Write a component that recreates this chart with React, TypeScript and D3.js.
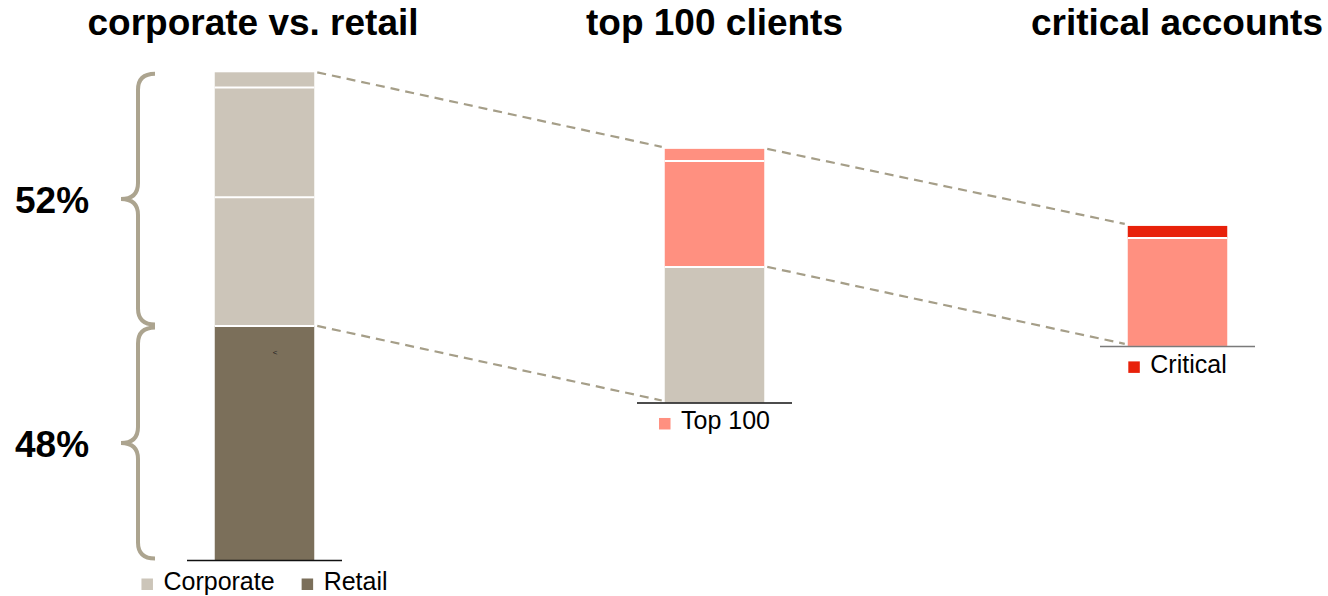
import React from "react";
import * as d3 from "d3";

// ---- data ----
const columns = ["corporate vs. retail", "top 100 clients", "critical accounts"];
const columnBase = [0, 32.3, 43.9]; // where each bar starts on the shared value axis
const bar1Segments = [
  { key: "Retail", value: 48.0, color: "#7b6f5a" },
  { key: "Corporate", value: 26.4, color: "#ccc5b9" },
  { key: "Corporate", value: 22.5, color: "#ccc5b9" },
  { key: "Corporate", value: 3.1, color: "#ccc5b9" },
];
const bar2Segments = [
  { key: "Other", value: 27.8, color: "#ccc5b9" },
  { key: "Top 100", value: 21.7, color: "#ff9080" },
  { key: "Top 100", value: 2.5, color: "#ff9080" },
];
const bar3Segments = [
  { key: "Top 100", value: 22.1, color: "#ff9080" },
  { key: "Critical", value: 2.5, color: "#e8210a" },
];
const legends = [
  [
    { label: "Corporate", color: "#ccc5b9" },
    { label: "Retail", color: "#7b6f5a" },
  ],
  [{ label: "Top 100", color: "#ff9080" }],
  [{ label: "Critical", color: "#e8210a" }],
];
const braceLabels = [
  { label: "52%", from: 48, to: 100 },
  { label: "48%", from: 0, to: 48 },
];

const W = 1328;
const H = 596;
const FONT = "'Liberation Sans', Arial, Helvetica, sans-serif";

let ctx: CanvasRenderingContext2D | null = null;
function measure(text: string, fs: number) {
  if (!ctx && typeof document !== "undefined") {
    ctx = document.createElement("canvas").getContext("2d");
  }
  if (!ctx) return text.length * fs * 0.5;
  ctx.font = `${fs}px 'Liberation Sans', Arial, sans-serif`;
  return ctx.measureText(text).width;
}

export default function App() {
  const y = d3.scaleLinear().domain([0, 100]).range([560, 72.3]);
  const x = d3.scaleOrdinal<string, number>().domain(columns).range([264.5, 714.5, 1177.5]);
  const titleX = d3.scaleOrdinal<string, number>().domain(columns).range([253, 714.5, 1177]);
  const barW = 99.5;
  const bars = [bar1Segments, bar2Segments, bar3Segments];

  const stacked = bars.map((segs, i) => {
    let acc = columnBase[i];
    return segs.map((s) => {
      const y0 = acc;
      acc += s.value;
      return { ...s, y0, y1: acc };
    });
  });

  const barTop = (i: number) => stacked[i][stacked[i].length - 1].y1;
  const left = (i: number) => x(columns[i]) - barW / 2;
  const right = (i: number) => x(columns[i]) + barW / 2;

  const connectors = [
    { a: 0, va: barTop(0), b: 1, vb: barTop(1) },
    { a: 0, va: stacked[0][0].y1, b: 1, vb: columnBase[1] },
    { a: 1, va: barTop(1), b: 2, vb: barTop(2) },
    { a: 1, va: stacked[1][0].y1, b: 2, vb: columnBase[2] },
  ];

  const bracePath = (vTop: number, vBot: number) => {
    const t = y(vTop) + 1.5;
    const b = y(vBot) - 1.5;
    const m = (t + b) / 2;
    const xe = 155, xv = 138, xc = 121, r = 16;
    return `M${xe},${t} Q${xv},${t} ${xv},${t + r} L${xv},${m - r} Q${xv},${m} ${xc},${m} Q${xv},${m} ${xv},${m + r} L${xv},${b - r} Q${xv},${b} ${xe},${b}`;
  };

  const fs = 25;

  return (
    <svg width={W} height={H} style={{ display: "block", position: "absolute", left: 0, top: 0 }}>
      <rect width={W} height={H} fill="#fff" />
      {columns.map((c) => (
        <text key={c} x={titleX(c)} y={35} textAnchor="middle" fontFamily={FONT} fontWeight="bold" fontSize={37} fill="#000">
          {c}
        </text>
      ))}
      {connectors.map((c, i) => (
        <line
          key={i}
          x1={right(c.a) + 3}
          y1={y(c.va)}
          x2={left(c.b) - 3}
          y2={y(c.vb) - 2}
          stroke="#a59e88"
          strokeWidth={2.2}
          strokeDasharray="9,6"
        />
      ))}
      {stacked.map((segs, i) => (
        <g key={i}>
          {segs.map((s, j) => (
            <rect key={j} x={left(i)} y={y(s.y1)} width={barW} height={y(s.y0) - y(s.y1)} fill={s.color} />
          ))}
          {segs.slice(1).map((s, j) => (
            <line key={"sep" + j} x1={left(i)} x2={right(i)} y1={y(s.y0)} y2={y(s.y0)} stroke="#fff" strokeWidth={2} />
          ))}
          <line
            x1={x(columns[i]) - 77.5}
            x2={x(columns[i]) + 77.5}
            y1={y(columnBase[i]) + 0.5}
            y2={y(columnBase[i]) + 0.5}
            stroke={i === 2 ? "#7a7a7a" : "#111"}
            strokeWidth={1.5}
          />
        </g>
      ))}
      <text x={275} y={355} fontFamily={FONT} fontSize={8} fill="#222" textAnchor="middle">
        {"<"}
      </text>
      {legends.map((items, i) => {
        const widths = items.map((it) => 22 + measure(it.label, fs));
        const gap = 27;
        const total = d3.sum(widths) + gap * (items.length - 1);
        let cx = x(columns[i]) - total / 2;
        const base = y(columnBase[i]) + (i === 0 ? 30 : 27);
        return (
          <g key={i}>
            {items.map((it, k) => {
              const x0 = cx;
              cx += widths[k] + gap;
              return (
                <g key={k}>
                  <rect x={x0} y={base - 11.5} width={11.5} height={11.5} fill={it.color} />
                  <text x={x0 + 22} y={base} fontFamily={FONT} fontSize={fs} fill="#000">
                    {it.label}
                  </text>
                </g>
              );
            })}
          </g>
        );
      })}
      {braceLabels.map((b, i) => (
        <g key={i}>
          <path d={bracePath(b.to, b.from)} fill="none" stroke="#aca48f" strokeWidth={4} />
          <text x={15} y={(y(b.to) + y(b.from)) / 2 + 14} fontFamily={FONT} fontWeight="bold" fontSize={37} fill="#000">
            {b.label}
          </text>
        </g>
      ))}
    </svg>
  );
}
